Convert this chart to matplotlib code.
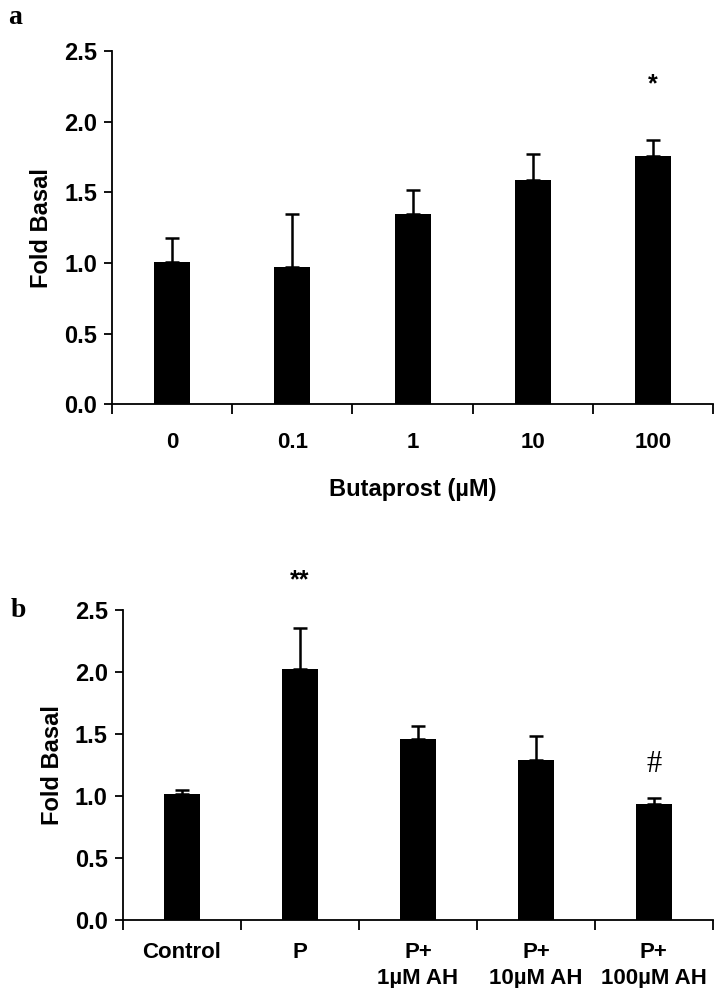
import matplotlib
matplotlib.use("Agg")
from matplotlib import pyplot as plt

# panel a data
doses = ["0", "0.1", "1", "10", "100"]
fold_a = [1.01, 0.97, 1.35, 1.59, 1.76]
err_a = [0.17, 0.38, 0.17, 0.18, 0.11]
marks_a = ["", "", "", "", "*"]
mark_y_a = [0, 0, 0, 0, 2.27]

# panel b data
groups = ["Control", "P", "P+\n1\u00b5M AH", "P+\n10\u00b5M AH", "P+\n100\u00b5M AH"]
fold_b = [1.01, 2.02, 1.46, 1.29, 0.935]
err_b = [0.04, 0.33, 0.10, 0.19, 0.05]
marks_b = ["", "**", "", "", "#"]
mark_y_b = [0, 2.74, 0, 0, 1.25]

yticks = [0.0, 0.5, 1.0, 1.5, 2.0, 2.5]

narrow = ["Liberation Sans Narrow", "Liberation Sans", "DejaVu Sans"]
sans = ["Liberation Sans", "DejaVu Sans"]
serif = ["Liberation Serif", "DejaVu Serif"]


def draw_panel(ax, labels, vals, errs, marks, mark_y, tick_pad, tick_fs):
    """画一个柱形图面板"""
    x = list(range(len(vals)))
    ax.bar(x, vals, width=0.3, color="black", zorder=2)
    ax.errorbar(x, vals, yerr=[[0] * len(errs), errs], fmt="none",
                ecolor="black", elinewidth=1.8, capsize=5, capthick=1.8, zorder=1)
    for xi, m, my in zip(x, marks, mark_y):
        if m == "#":
            ax.text(xi, my, m, ha="center", va="center", fontsize=22,
                    family=serif, clip_on=False)
        elif m:
            ax.text(xi, my, m, ha="center", va="center", fontsize=18,
                    fontweight="bold", family=sans, clip_on=False)

    ax.set_xlim(-0.5, len(vals) - 0.5)
    ax.set_ylim(0, 2.5)
    ax.set_yticks(yticks)
    ax.set_yticklabels(["%.1f" % v for v in yticks], family=narrow,
                       fontsize=17, fontweight="bold")
    # 刻度在类别之间
    ax.set_xticks([i - 0.5 for i in range(len(vals) + 1)], minor=False)
    ax.set_xticklabels([])
    ax.set_xticks(x, minor=True)
    ax.set_xticklabels(labels, minor=True, family=narrow, fontsize=tick_fs,
                       fontweight="bold", linespacing=1.3)
    ax.tick_params(axis="x", which="minor", length=0, pad=tick_pad)
    ax.tick_params(axis="x", which="major", length=7, width=1.3, direction="out")
    ax.tick_params(axis="y", length=6, width=1.3, direction="out", pad=5)
    ax.spines["top"].set_visible(False)
    ax.spines["right"].set_visible(False)
    ax.spines["left"].set_linewidth(1.3)
    ax.spines["bottom"].set_linewidth(1.3)
    ax.set_ylabel("Fold Basal", family=sans, fontsize=17, fontweight="bold",
                  labelpad=8)


fig = plt.figure(figsize=(7.15, 9.88), dpi=100)

ax_a = fig.add_axes([0.157, 0.591, 0.840, 0.357])
draw_panel(ax_a, doses, fold_a, err_a, marks_a, mark_y_a, 20, 16)
ax_a.set_xlabel("Butaprost (\u00b5M)", family=sans, fontsize=17,
                fontweight="bold", labelpad=18)

ax_b = fig.add_axes([0.172, 0.069, 0.825, 0.314])
draw_panel(ax_b, groups, fold_b, err_b, marks_b, mark_y_b, 16, 16)

fig.text(0.012, 0.995, "a", family=serif, fontsize=20, fontweight="bold",
         va="top")
fig.text(0.015, 0.395, "b", family=serif, fontsize=20, fontweight="bold",
         va="top")

plt.savefig("out.png", dpi=100)
